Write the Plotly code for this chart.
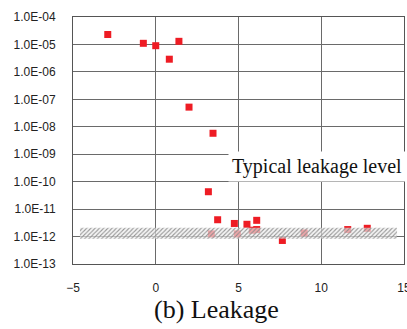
import plotly.graph_objects as go

# Data
x_vals = [-2.90, -0.75, 0.00, 0.82, 1.40, 2.01, 3.46, 3.18, 3.74, 4.75, 5.51, 6.10, 7.65, 12.78,
          3.36, 4.93, 5.83, 6.10, 8.97, 11.60]
y_vals = [2.3e-5, 1.1e-5, 9.0e-6, 2.9e-6, 1.3e-5, 5.2e-8, 5.8e-9, 4.3e-11, 4.1e-12, 3.0e-12,
          2.8e-12, 3.9e-12, 7.2e-13, 2.0e-12,
          1.25e-12, 1.25e-12, 1.7e-12, 1.8e-12, 1.35e-12, 1.8e-12]

band_x = [-4.58, 14.58]
band_y = [8.3e-13, 2.1e-12]

y_tickvals = [1e-4, 1e-5, 1e-6, 1e-7, 1e-8, 1e-9, 1e-10, 1e-11, 1e-12, 1e-13]
y_ticktext = ["1.0E-04", "1.0E-05", "1.0E-06", "1.0E-07", "1.0E-08", "1.0E-09",
              "1.0E-10", "1.0E-11", "1.0E-12", "1.0E-13"]
x_tickvals = [-5, 0, 5, 10, 15]

band_label = "Typical leakage level"
title_text = "(b) Leakage"

fig = go.Figure()
fig.add_trace(go.Scatter(
    x=x_vals, y=y_vals, mode="markers",
    marker=dict(symbol="square", size=7, color="#ee1c24", line=dict(width=0)),
    showlegend=False, hoverinfo="skip"))

fig.add_trace(go.Scatter(
    x=[band_x[0], band_x[1], band_x[1], band_x[0], band_x[0]],
    y=[band_y[1], band_y[1], band_y[0], band_y[0], band_y[1]],
    mode="lines", fill="toself", line=dict(width=0),
    fillcolor="rgba(255,255,255,0.6)",
    fillpattern=dict(shape="/", size=3, solidity=0.35, fgcolor="#8a8a8a",
                     bgcolor="rgba(240,240,240,0.65)", fgopacity=0.9),
    showlegend=False, hoverinfo="skip"))

fig.add_annotation(x=4.38, y=-9.43, xref="x", yref="y", text=band_label,
                   showarrow=False, xanchor="left", yanchor="middle",
                   bgcolor="white", borderpad=3,
                   font=dict(family="Liberation Serif", size=20, color="#111"))

fig.add_annotation(x=0.435, y=-0.185, xref="paper", yref="paper", text=title_text,
                   showarrow=False, xanchor="center", yanchor="middle",
                   font=dict(family="Liberation Serif", size=26, color="#111"))

axis_common = dict(showgrid=True, gridcolor="#6a6a6a", gridwidth=1,
                   showline=True, linecolor="#555", linewidth=1, mirror=True,
                   zeroline=False, ticks="", automargin=False,
                   tickfont=dict(family="Liberation Sans", size=12, color="#222"))

fig.update_xaxes(range=[-5, 15], tickvals=x_tickvals, ticklabelstandoff=13,
                 ticklabeloverflow="allow", **axis_common)
fig.update_yaxes(type="log", range=[-13, -4], tickvals=y_tickvals, ticktext=y_ticktext,
                 ticklabelstandoff=14, **axis_common)

fig.update_layout(width=407, height=329, margin=dict(l=73, r=3, t=17, b=65, autoexpand=False),
                  paper_bgcolor="white", plot_bgcolor="white")

fig.write_html("out.html")
